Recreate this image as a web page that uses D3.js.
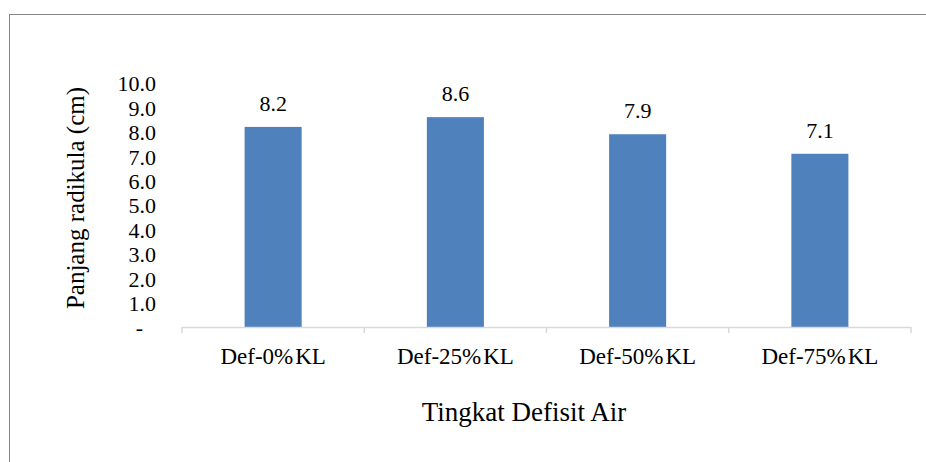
<!DOCTYPE html>
<html>
<head>
<meta charset="utf-8">
<script src="https://cdn.jsdelivr.net/npm/d3@7"></script>
<style>
  body { margin: 0; background: #fff; }
  text { font-family: "Liberation Serif", "Times New Roman", serif; fill: #000; }
</style>
</head>
<body>
<div id="barChart" style="width:926px;height:462px;"></div>
<script>
// data
const categories = ["Def-0%\u200AKL", "Def-25%\u200AKL", "Def-50%\u200AKL", "Def-75%\u200AKL"];
const values = [8.2, 8.6, 7.9, 7.1];
const yTicks = [0, 1, 2, 3, 4, 5, 6, 7, 8, 9, 10];
const xLabel = "Tingkat Defisit Air";
const yLabel = "Panjang radikula (cm)";

// Width and Height of the box
const initial_width = 926;
const initial_height = 462;

// plot area
const margin = {top: 83, right: 15, bottom: 135, left: 182},
    width = 911 - margin.left,
    height = 327 - margin.top;

const svgRoot = d3.select("#barChart")
    .append("svg")
      .attr("width", initial_width)
      .attr("height", initial_height);

// outer frame (runs off the right and bottom edge)
svgRoot.append("rect")
    .attr("x", 9.5)
    .attr("y", 14.5)
    .attr("width", 1000)
    .attr("height", 600)
    .style("fill", "none")
    .style("stroke", "#868686")
    .style("stroke-width", 1);

const svg = svgRoot.append("g")
    .attr("transform", "translate(" + margin.left + "," + margin.top + ")");

// scales
const xScale = d3.scaleBand()
    .domain(categories)
    .range([0, width])
    .paddingInner(0.687)
    .paddingOuter(0.3435);

const yScale = d3.scaleLinear()
    .domain([0, 10])
    .range([height, 0]);

// bars
svg.append("g")
    .selectAll("rect")
    .data(values)
    .enter()
    .append("rect")
      .attr("x", (d, i) => xScale(categories[i]))
      .attr("y", d => yScale(d))
      .attr("width", xScale.bandwidth())
      .attr("height", d => height - yScale(d))
      .style("fill", "#4f81bd");

// data labels
svg.append("g")
    .selectAll("text")
    .data(values)
    .enter()
    .append("text")
      .attr("x", (d, i) => xScale(categories[i]) + xScale.bandwidth() / 2)
      .attr("y", d => yScale(d) - 16)
      .attr("text-anchor", "middle")
      .style("font-size", "22px")
      .text(d => d.toFixed(1));

// Y axis (labels only)
const yAxis = svg.append("g")
    .call(d3.axisLeft(yScale)
        .tickValues(yTicks)
        .tickSize(0)
        .tickPadding(26)
        .tickFormat(d => d === 0 ? "-" : d.toFixed(1)));
yAxis.select(".domain").remove();
yAxis.selectAll("text")
    .style("font-size", "22px")
    .attr("dy", "0.36em")
    .attr("dx", d => d === 0 ? -13 : 0);

// X axis line with boundary ticks
const boundaries = d3.range(categories.length + 1).map(i => i * xScale.step());
svg.append("line")
    .attr("x1", 0).attr("x2", width)
    .attr("y1", height + 0.5).attr("y2", height + 0.5)
    .style("stroke", "#d9d9d9")
    .style("stroke-width", 1.5);
svg.append("g")
    .selectAll("line")
    .data(boundaries)
    .enter()
    .append("line")
      .attr("x1", d => d).attr("x2", d => d)
      .attr("y1", height).attr("y2", height + 6)
      .style("stroke", "#d9d9d9")
      .style("stroke-width", 1.5);

// category labels
svg.append("g")
    .selectAll("text")
    .data(categories)
    .enter()
    .append("text")
      .attr("x", d => xScale(d) + xScale.bandwidth() / 2)
      .attr("y", height + 37)
      .attr("text-anchor", "middle")
      .style("font-size", "23px")
      .text(d => d);

// label bottom
svgRoot.append("text")
    .attr("text-anchor", "middle")
    .attr("transform", "translate(524,421)")
    .style("font-size", "27px")
    .text(xLabel);

// label left
svgRoot.append("text")
    .attr("text-anchor", "middle")
    .attr("transform", "translate(84,198) rotate(-90)")
    .style("font-size", "25px")
    .text(yLabel);
</script>
</body>
</html>
